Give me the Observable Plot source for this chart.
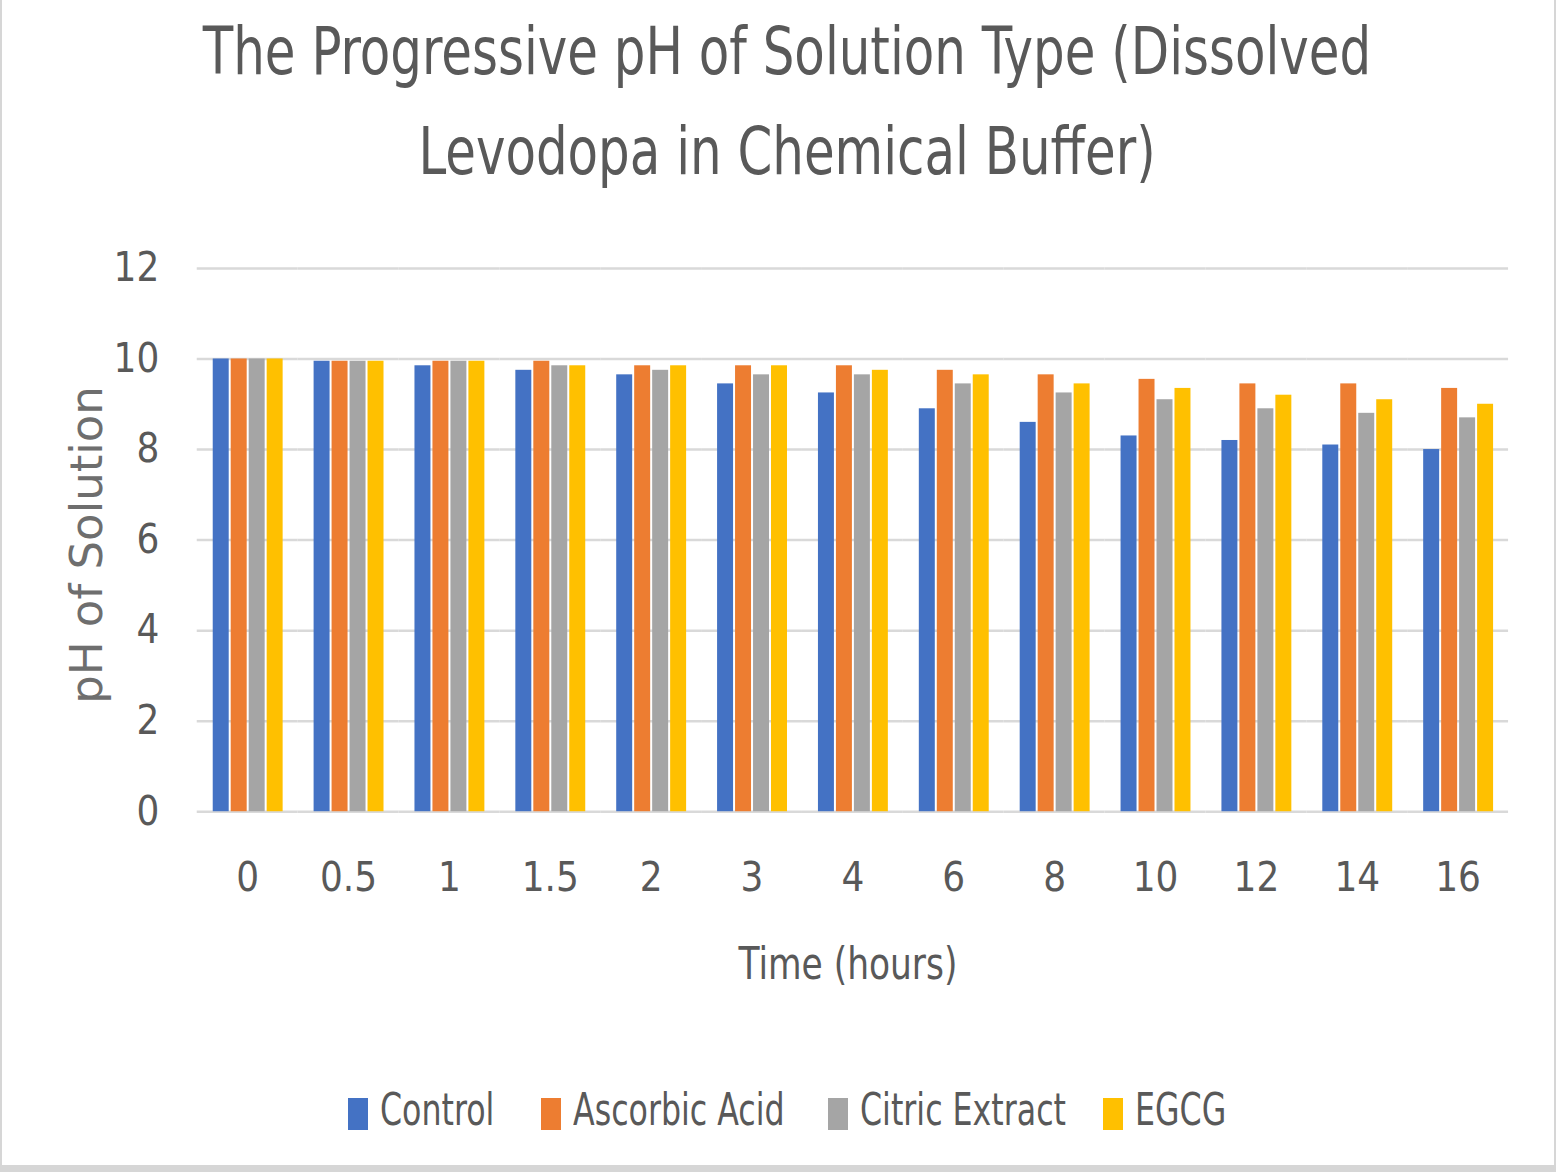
<!DOCTYPE html>
<html>
<head>
<meta charset="utf-8">
<script src="https://cdn.jsdelivr.net/npm/d3@7"></script>
<script src="https://cdn.jsdelivr.net/npm/@observablehq/plot@0.6"></script>
<style>
  html, body { margin: 0; padding: 0; background: #d6d6d6; }
  #page { position: absolute; left: 2px; top: 0; width: 1552px; height: 1165px; background: #fff; overflow: hidden; }
  .narrow { font-family: "Liberation Sans Narrow", "DejaVu Sans Condensed", "Arial Narrow", sans-serif; color: #595959; }
  #title { position: absolute; left: 0; top: 2px; width: 1570px; text-align: center; font-size: 66px; line-height: 100px; }
  #title div { transform: scaleX(0.84); transform-origin: 50% 50%; white-space: nowrap; }
  #chart { position: absolute; left: -2px; top: 220px; }
  #xlabel { position: absolute; left: 0; width: 1692px; top: 938px; text-align: center; font-size: 44px; transform: scaleX(0.87); transform-origin: 50% 50%; white-space: nowrap; }
  #ylabel { position: absolute; left: 84px; top: 545px; transform: translate(-50%, -50%) rotate(-90deg); white-space: nowrap;
            font-family: "DejaVu Sans", sans-serif; font-size: 45px; color: #6e6e6e; }
  .sw { position: absolute; top: 1098px; width: 20px; height: 32px; }
  .lt { position: absolute; top: 1084px; font-size: 44px; white-space: nowrap; transform: scaleX(0.8); transform-origin: 0 50%; }
</style>
</head>
<body>
<div id="page">
  <div id="title" class="narrow"><div>The Progressive pH of Solution Type (Dissolved</div><div>Levodopa in Chemical Buffer)</div></div>
  <div id="chart" class="narrow"></div>
  <div id="ylabel">pH of Solution</div>
  <div id="xlabel" class="narrow">Time (hours)</div>
  <div id="legend" class="narrow"></div>
</div>
<script>
const times = ["0", "0.5", "1", "1.5", "2", "3", "4", "6", "8", "10", "12", "14", "16"];
const seriesNames = ["Control", "Ascorbic Acid", "Citric Extract", "EGCG"];
const seriesColors = ["#4472C4", "#ED7D31", "#A5A5A5", "#FFC000"];
const control  = [10.0, 9.95, 9.85, 9.75, 9.65, 9.45, 9.25, 8.9, 8.6, 8.3, 8.2, 8.1, 8.0];
const ascorbic = [10.0, 9.95, 9.95, 9.95, 9.85, 9.85, 9.85, 9.75, 9.65, 9.55, 9.45, 9.45, 9.35];
const citric   = [10.0, 9.95, 9.95, 9.85, 9.75, 9.65, 9.65, 9.45, 9.25, 9.1, 8.9, 8.8, 8.7];
const egcg     = [10.0, 9.95, 9.95, 9.85, 9.85, 9.85, 9.75, 9.65, 9.45, 9.35, 9.2, 9.1, 9.0];
const yTicks = [0, 2, 4, 6, 8, 10, 12];

const seriesValues = [control, ascorbic, citric, egcg];
const data = [];
times.forEach((t, i) => {
  seriesNames.forEach((s, j) => data.push({time: t, series: s, value: seriesValues[j][i]}));
});

const chart = Plot.plot({
  width: 1556,
  height: 790,
  marginTop: 48,
  marginBottom: 198,
  marginLeft: 196,
  marginRight: 46,
  style: {fontFamily: '"Liberation Sans Narrow", "DejaVu Sans Condensed", sans-serif', color: "#595959", background: "transparent"},
  fx: {domain: times, padding: 0, label: null},
  x: {domain: seriesNames, axis: null, paddingInner: 0.12, paddingOuter: 0.82},
  y: {domain: [0, 12], label: null},
  color: {domain: seriesNames, range: seriesColors},
  marks: [
    Plot.gridY(yTicks, {stroke: "#d9d9d9", strokeOpacity: 1, strokeWidth: 2.5}),
    Plot.barY(data, {fx: "time", x: "series", y: "value", fill: "series"}),
    Plot.axisY(yTicks, {tickSize: 0, tickPadding: 38, fontSize: 40, label: null}),
    Plot.axisFx({anchor: "bottom", tickSize: 0, tickPadding: 51, fontSize: 40, label: null})
  ]
});
document.getElementById("chart").appendChild(chart);

const swatchX = [348, 541, 828, 1103];
const legend = d3.select("#legend");
seriesNames.forEach((s, i) => {
  legend.append("div").attr("class", "sw").style("left", (swatchX[i] - 2) + "px").style("background", seriesColors[i]);
  legend.append("div").attr("class", "lt").style("left", (swatchX[i] + 30) + "px").text(s);
});
</script>
</body>
</html>
